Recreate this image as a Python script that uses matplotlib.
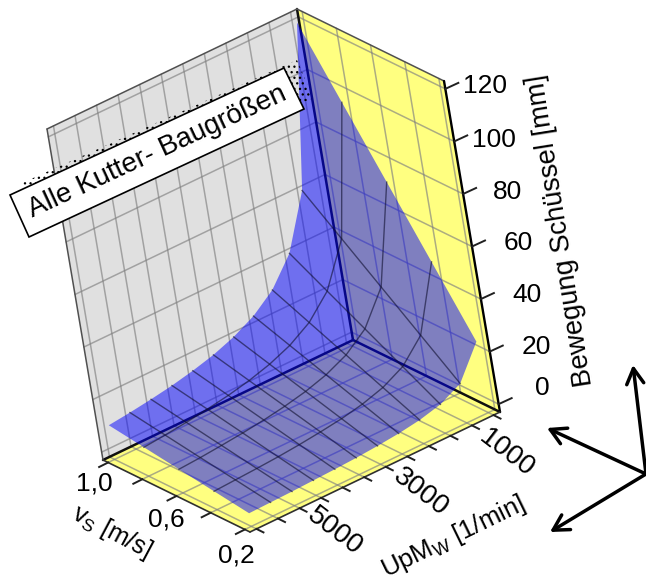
import numpy as np
import matplotlib
matplotlib.use("Agg")
import matplotlib.pyplot as plt
from matplotlib.patches import Polygon

plt.rcParams['font.family'] = ['Liberation Sans', 'DejaVu Sans']
plt.rcParams['mathtext.default'] = 'regular'
plt.rcParams['hatch.linewidth'] = 0.9

# values
v_values = [1.0, 0.8, 0.6, 0.4, 0.2]
rpm_values = [500, 1000, 1500, 2000, 2500, 3000, 3500, 4000, 4500, 5000, 5500, 6000]
z_v10 = [120, 60, 40, 30, 24, 20, 17.1, 15, 13.3, 12, 10.9, 10]
z_v08 = [96, 48, 32, 24, 19.2, 16, 13.7, 12, 10.7, 9.6, 8.7, 8]
z_v06 = [72, 36, 24, 18, 14.4, 12, 10.3, 9, 8, 7.2, 6.5, 6]
z_v04 = [48, 24, 16, 12, 9.6, 8, 6.9, 6, 5.3, 4.8, 4.4, 4]
z_v02 = [24, 12, 8, 6, 4.8, 4, 3.4, 3, 2.7, 2.4, 2.2, 2]
z_ticks = [0, 20, 40, 60, 80, 100, 120]

v_lim = (0.17, 1.03)
rpm_lim = (350, 6150)
z_lim = (-3, 123)

Z = np.array([z_v10, z_v08, z_v06, z_v04, z_v02])

# oblique view: pixel position of the box corner and the three axis directions
B = np.array([250.0, 532.0])
ev = np.array([-147.0, -72.0]) / (v_lim[1] - v_lim[0])
er = np.array([250.0, -120.0]) / (rpm_lim[0] - rpm_lim[1])
ez = np.array([-56.0, -331.0]) / (z_lim[1] - z_lim[0])


def proj(v, r, z):
    v = np.asarray(v, dtype=float)
    r = np.asarray(r, dtype=float)
    z = np.asarray(z, dtype=float)
    x = B[0] + (v - v_lim[0]) * ev[0] + (r - rpm_lim[1]) * er[0] + (z - z_lim[0]) * ez[0]
    y = B[1] + (v - v_lim[0]) * ev[1] + (r - rpm_lim[1]) * er[1] + (z - z_lim[0]) * ez[1]
    return np.column_stack([x, y]) if x.ndim else np.array([x, y])


def line3(ax, p, q, **kw):
    a = proj(*p)
    b = proj(*q)
    ax.plot([a[0], b[0]], [a[1], b[1]], solid_capstyle='round', **kw)


fig = plt.figure(figsize=(6.46, 5.85), dpi=100)
ax = fig.add_axes([0, 0, 1, 1])
ax.set_xlim(0, 646)
ax.set_ylim(585, 0)
ax.axis('off')

v0, v1 = v_lim
r0, r1 = rpm_lim
z0, z1 = z_lim

# walls and floor
wall_left = [proj(v1, r1, z0), proj(v1, r0, z0), proj(v1, r0, z1), proj(v1, r1, z1)]
wall_right = [proj(v1, r0, z0), proj(v0, r0, z0), proj(v0, r0, z1), proj(v1, r0, z1)]
floor = [proj(v1, r1, z0), proj(v1, r0, z0), proj(v0, r0, z0), proj(v0, r1, z0)]
ax.add_patch(Polygon(wall_left, fc='#e0e0e0', ec='none'))
ax.add_patch(Polygon(wall_right, fc='#ffff80', ec='none'))
ax.add_patch(Polygon(floor, fc='#ffff80', ec='none'))

# grid
grid = dict(color='#808080', alpha=0.65, lw=1.1)
for r in rpm_values:
    line3(ax, (v1, r, z0), (v1, r, z1), **grid)
    line3(ax, (v0, r, z0), (v1, r, z0), **grid)
for v in v_values:
    line3(ax, (v, r0, z0), (v, r0, z1), **grid)
    line3(ax, (v, r0, z0), (v, r1, z0), **grid)
for z in z_ticks:
    line3(ax, (v1, r0, z), (v1, r1, z), **grid)
    line3(ax, (v1, r0, z), (v0, r0, z), **grid)

# box edges
line3(ax, (v1, r0, z0), (v1, r0, z1), color='#101010', lw=1.8)
line3(ax, (v1, r0, z0), (v1, r1, z0), color='#101010', lw=1.8)
line3(ax, (v1, r0, z0), (v0, r0, z0), color='#101010', lw=1.8)
line3(ax, (v1, r1, z0), (v1, r1, z1), color='#505050', lw=1.1)
line3(ax, (v1, r1, z1), (v1, r0, z1), color='#505050', lw=1.1)
line3(ax, (v1, r0, z1), (v0, r0, z1), color='#505050', lw=1.1)
line3(ax, (v0, r0, z0), (v0, r0, z1), color='black', lw=1.7)
line3(ax, (v1, r1, z0), (v0, r1, z0), color='#303030', lw=1.2)
line3(ax, (v0, r1, z0), (v0, r0, z0), color='#303030', lw=1.2)

# surface
n_v, n_r = Z.shape
outline = []
for i in range(n_v):
    outline.append(proj(v_values[i], rpm_values[0], Z[i, 0]))
for j in range(1, n_r):
    outline.append(proj(v_values[-1], rpm_values[j], Z[-1, j]))
for i in range(n_v - 2, -1, -1):
    outline.append(proj(v_values[i], rpm_values[-1], Z[i, -1]))
for j in range(n_r - 2, 0, -1):
    outline.append(proj(v_values[0], rpm_values[j], Z[0, j]))
ax.add_patch(Polygon(outline, fc='#0000ff', alpha=0.5, ec='none', zorder=3))

mesh = dict(color='#101030', alpha=0.6, lw=1.0, zorder=4)
for i in range(1, n_v - 1):
    pts = proj(np.full(n_r, v_values[i]), rpm_values, Z[i])
    ax.plot(pts[:, 0], pts[:, 1], **mesh)
for j in range(1, n_r - 1):
    pts = proj(v_values, np.full(n_v, rpm_values[j]), Z[:, j])
    ax.plot(pts[:, 0], pts[:, 1], **mesh)

# ticks
for z in z_ticks:
    p = proj(v0, r0, z)
    ax.plot([p[0], p[0] + 13], [p[1], p[1] - 6], color='#202020', lw=1.4)
for v in v_values:
    p = proj(v, r1, z0)
    ax.plot([p[0], p[0] - 9], [p[1], p[1] + 4.5], color='#202020', lw=1.4)
for r in rpm_values:
    p = proj(v0, r, z0)
    ax.plot([p[0], p[0] + 7], [p[1], p[1] + 3.5], color='#202020', lw=1.4)

# tick labels
fs = 19
z_pos = [(542, 388), (536, 347), (527, 295), (518, 243), (508, 192), (494, 140), (485, 86)]
for z, (x, y) in zip(z_ticks, z_pos):
    ax.text(x, y, str(z), fontsize=fs, ha='center', va='center', zorder=6)
for lab, (x, y) in zip(['1,0', '0,6', '0,2'], [(94, 483), (166, 519), (236, 555)]):
    ax.text(x, y, lab, fontsize=fs, ha='center', va='center', zorder=6)
for lab, (x, y) in zip(['1000', '3000', '5000'], [(507, 453), (421, 492), (335, 531)]):
    ax.text(x, y, lab, fontsize=20, ha='center', va='center', rotation=-37.5, rotation_mode='anchor')

# axis titles
ax.text(561, 230, 'Bewegung Schüssel [mm]', fontsize=19.6, ha='center', va='center',
        rotation=99, rotation_mode='anchor')
ax.text(112, 532, r'$v_S$ [m/s]', fontsize=18, ha='center', va='center',
        rotation=-28, rotation_mode='anchor')
ax.text(453, 537, r'$UpM_W$ [1/min]', fontsize=18.5, ha='center', va='center',
        rotation=26, rotation_mode='anchor')

# label box with stippled shadow
shadow = [(22, 183), (297, 60), (313, 98), (40, 225)]
ax.add_patch(Polygon(shadow, fc='none', ec='black', lw=0, hatch='...', zorder=5))
box = [(10, 195), (284, 68), (304, 109), (29, 237)]
ax.add_patch(Polygon(box, fc='white', ec='black', lw=1.2, zorder=5))
ax.text(157, 152, 'Alle Kutter- Baugrößen', fontsize=20, ha='center', va='center',
        rotation=24.9, rotation_mode='anchor', zorder=6)

# direction arrows
head = '->,head_length=0.5,head_width=0.28'
for tip in [(547, 428), (550, 532), (633, 365)]:
    ax.annotate('', xy=tip, xytext=(646, 474),
                arrowprops=dict(arrowstyle=head, color='black', lw=2.5, mutation_scale=22,
                                shrinkA=0, shrinkB=0))

fig.savefig('out.png', dpi=100)
